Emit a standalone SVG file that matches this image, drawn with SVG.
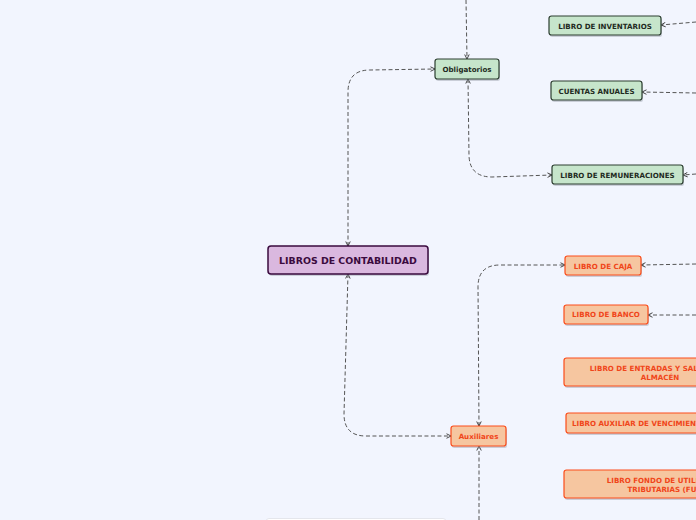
<svg xmlns="http://www.w3.org/2000/svg" width="696" height="520" viewBox="0 0 696 520">
<defs>
<marker id="ah" viewBox="0 0 8 8" refX="7" refY="4" markerWidth="6" markerHeight="6" orient="auto-start-reverse" markerUnits="userSpaceOnUse">
<path d="M1,1 L7,4 L1,7" fill="none" stroke="#333" stroke-width="1.2"/>
</marker>
</defs>
<style>
.bg{fill:#f2f5fe}
.c{fill:none;stroke:#555;stroke-width:1;stroke-dasharray:4 2.5;marker-start:url(#ah);marker-end:url(#ah)}
.c1{fill:none;stroke:#555;stroke-width:1;stroke-dasharray:4 2.5;marker-end:url(#ah)}
.sh{fill:#9aa0aa;opacity:0.45}
.root{fill:#dab8df;stroke:#3a0a3e;stroke-width:1.5}
.g{fill:#c6e5cb;stroke:#2c3e30;stroke-width:1.2}
.o{fill:#f6c6a0;stroke:#fb4c1a;stroke-width:1.2}
.w{fill:#ffffff;stroke:#e4e6ec;stroke-width:1}
text{font-family:"DejaVu Sans",Verdana,sans-serif;font-weight:bold;text-anchor:middle}
.tr{font-size:9.4px;fill:#3a0a3e}
.tg{font-size:7.1px;fill:#1f2a22}
.to{font-size:7.1px;fill:#f0451a}
</style>
<rect class="bg" x="0" y="0" width="696" height="520"/>
<g id="connectors">
<path class="c" d="M348,246 L348,92 Q348,70 370,70 L435,69"/>
<path class="c" d="M348,274 L344,414 Q344,436 366,436 L451,436"/>
<path class="c1" d="M466,0 L467,59"/>
<path class="c" d="M468,79 L469,156 Q470,177 492,177 L552,175"/>
<path class="c1" d="M696,22 L661,25"/>
<path class="c1" d="M696,93 L642,92"/>
<path class="c1" d="M696,174 L683,175"/>
<path class="c" d="M479,426 L478,287 Q478,265 500,265 L565,265"/>
<path class="c1" d="M479,520 L479,446"/>
<path class="c1" d="M696,264 L641,265"/>
<path class="c1" d="M696,315 L648,315"/>
</g>
<g id="n-root">
<rect class="sh" x="269" y="248" width="160" height="28" rx="3"/>
<rect class="root" x="268" y="246" width="160" height="28" rx="3"/>
<text class="tr" x="348" y="263.5">LIBROS DE CONTABILIDAD</text>
</g>
<g id="n-obligatorios">
<rect class="sh" x="436" y="61" width="64" height="20" rx="2.5"/>
<rect class="g" x="435" y="59" width="64" height="20" rx="2.5"/>
<text class="tg" x="467" y="71.5">Obligatorios</text>
</g>
<g id="n-inventarios">
<rect class="sh" x="550" y="18" width="112" height="19" rx="2.5"/>
<rect class="g" x="549" y="16" width="112" height="19" rx="2.5"/>
<text class="tg" x="605" y="28.5">LIBRO DE INVENTARIOS</text>
</g>
<g id="n-cuentas">
<rect class="sh" x="552" y="83" width="91" height="19" rx="2.5"/>
<rect class="g" x="551" y="81" width="91" height="19" rx="2.5"/>
<text class="tg" x="596.5" y="93.5">CUENTAS ANUALES</text>
</g>
<g id="n-remuneraciones">
<rect class="sh" x="553" y="167" width="131" height="19" rx="2.5"/>
<rect class="g" x="552" y="165" width="131" height="19" rx="2.5"/>
<text class="tg" x="617.5" y="177.5">LIBRO DE REMUNERACIONES</text>
</g>
<g id="n-auxiliares">
<rect class="sh" x="452" y="428" width="55" height="20" rx="2.5"/>
<rect class="o" x="451" y="426" width="55" height="20" rx="2.5"/>
<text class="to" x="478.5" y="438.5">Auxiliares</text>
</g>
<g id="n-caja">
<rect class="sh" x="566" y="258" width="76" height="19" rx="2.5"/>
<rect class="o" x="565" y="256" width="76" height="19" rx="2.5"/>
<text class="to" x="603" y="268.5">LIBRO DE CAJA</text>
</g>
<g id="n-banco">
<rect class="sh" x="565" y="307" width="84" height="19" rx="2.5"/>
<rect class="o" x="564" y="305" width="84" height="19" rx="2.5"/>
<text class="to" x="606" y="317">LIBRO DE BANCO</text>
</g>
<g id="n-almacen">
<rect class="sh" x="565" y="360" width="192" height="28" rx="2.5"/>
<rect class="o" x="564" y="358" width="192" height="28" rx="2.5"/>
<text class="to" x="660" y="370.5">LIBRO DE ENTRADAS Y SALIDAS DE</text>
<text class="to" x="660" y="379.5">ALMACÉN</text>
</g>
<g id="n-vencimientos">
<rect class="sh" x="567" y="415" width="152" height="20" rx="2.5"/>
<rect class="o" x="566" y="413" width="152" height="20" rx="2.5"/>
<text class="to" x="642" y="425.5">LIBRO AUXILIAR DE VENCIMIENTOS</text>
</g>
<g id="n-fut">
<rect class="sh" x="565" y="472" width="202" height="28" rx="2.5"/>
<rect class="o" x="564" y="470" width="202" height="28" rx="2.5"/>
<text class="to" x="666" y="482.5">LIBRO FONDO DE UTILIDADES</text>
<text class="to" x="666" y="491.5">TRIBUTARIAS (FUT)</text>
</g>
<g id="n-bottom">
<rect class="w" x="266" y="518.5" width="180" height="20" rx="3"/>
</g>
</svg>
